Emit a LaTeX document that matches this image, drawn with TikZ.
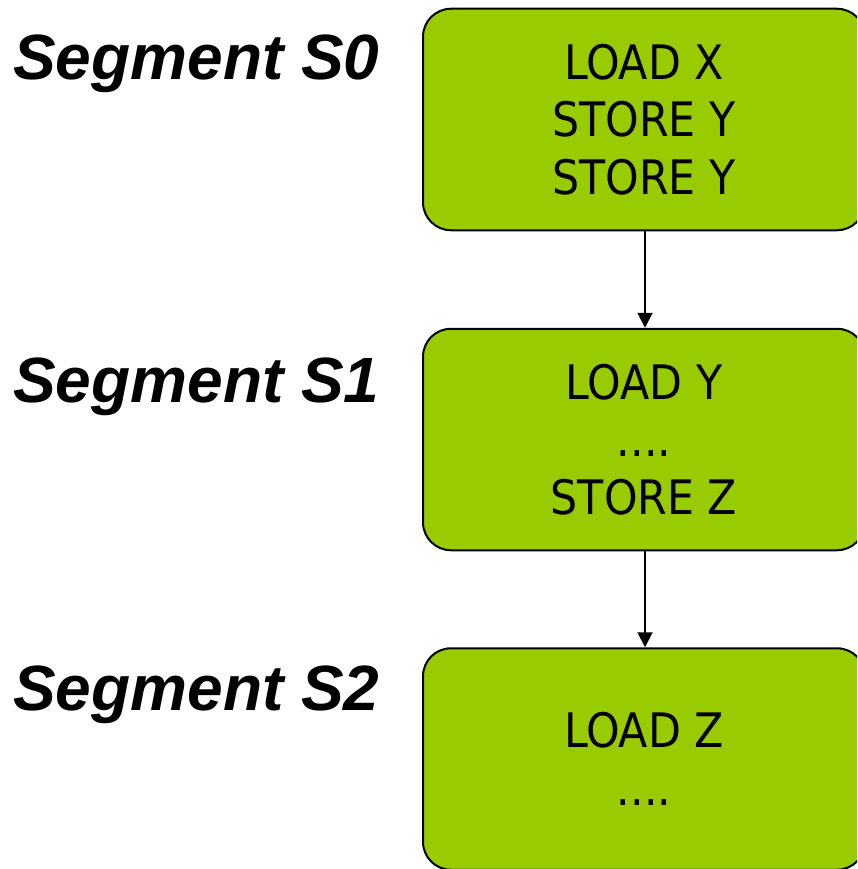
\documentclass[tikz,border=0pt]{standalone}
\usepackage{fontspec}
\setmainfont{Liberation Sans}
\newfontfamily\boxfont{DejaVu Sans Condensed}
\usetikzlibrary{arrows.meta}
\definecolor{segfill}{HTML}{99CC00}
\begin{document}
\begin{tikzpicture}[x=1pt,y=-1pt,
  segbox/.style={draw=black, line width=2pt, fill=segfill, rounded corners=28pt,
    minimum width=442pt, minimum height=221.5pt, align=center, inner sep=0pt,
    font=\boxfont\fontsize{47.5}{57.5}\selectfont},
  seglabel/.style={anchor=base west, inner sep=0pt,
    font=\fontsize{64}{77}\selectfont\bfseries\itshape},
  flow/.style={line width=2pt, -{Triangle[width=15pt,length=15pt]}}]
\useasboundingbox (0,0) rectangle (857,869);
\clip (0,0) rectangle (857,869);

% segment boxes
\node[segbox] (s0) at (644,119.5) {LOAD X\\STORE Y\\STORE Y};
\node[segbox] (s1) at (644,439.5) {LOAD Y\\....\\STORE Z};
\node[segbox] (s2) at (644,759) {LOAD Z\\....};

% segment labels
\node[seglabel] (l0) at (13,80) {Segment S0};
\node[seglabel] (l1) at (13,402) {Segment S1};
\node[seglabel] (l2) at (13,710) {Segment S2};

% ordering arrows
\coordinate (ax) at (645,0);
\draw[flow] (s0.south -| ax) -- (s1.north -| ax);
\draw[flow] (s1.south -| ax) -- (s2.north -| ax);
\end{tikzpicture}
\end{document}
